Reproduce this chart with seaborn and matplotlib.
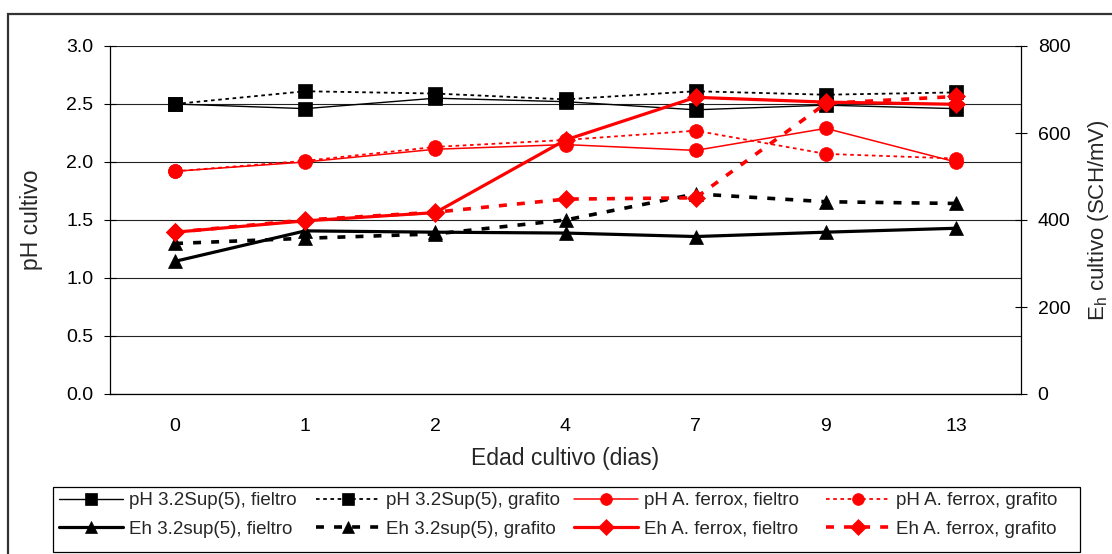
import matplotlib
matplotlib.use("Agg")
import matplotlib.pyplot as plt
import matplotlib.patches as mpatches
import seaborn as sns
import numpy as np

# Culture age (days) shown as evenly spaced categories
dias = ["0", "1", "2", "4", "7", "9", "13"]

# pH of the cultures
ph_sup_fieltro = [2.50, 2.46, 2.55, 2.52, 2.45, 2.49, 2.46]
ph_sup_grafito = [2.50, 2.61, 2.59, 2.54, 2.61, 2.58, 2.60]
ph_ferrox_fieltro = [1.92, 2.00, 2.11, 2.15, 2.10, 2.29, 2.00]
ph_ferrox_grafito = [1.92, 2.01, 2.13, 2.19, 2.27, 2.07, 2.03]

# Redox potential (mV vs SCH)
eh_sup_fieltro = [305, 375, 372, 370, 362, 372, 381]
eh_sup_grafito = [346, 358, 368, 400, 460, 442, 438]
eh_ferrox_fieltro = [372, 398, 417, 584, 682, 671, 666]
eh_ferrox_grafito = [372, 400, 418, 448, 451, 668, 684]

sns.set_style("white")
plt.rcParams["font.family"] = ["Liberation Sans", "DejaVu Sans"]

W, H = 1112, 554
fig = plt.figure(figsize=(W / 100, H / 100), dpi=100)
ax = fig.add_axes([110 / W, 1 - 394 / H, (1021 - 110) / W, (394 - 46) / H])
ax2 = ax.twinx()

x = np.arange(len(dias))

series_ph = [
    ("pH 3.2Sup(5), fieltro", ph_sup_fieltro, "black", "-", 1.0, "s", 10),
    ("pH 3.2Sup(5), grafito", ph_sup_grafito, "black", (0, (2.0, 2.0)), 1.3, "s", 10),
    ("pH A. ferrox, fieltro", ph_ferrox_fieltro, "#ff0000", "-", 1.1, "o", 10),
    ("pH A. ferrox, grafito", ph_ferrox_grafito, "#ff0000", (0, (2.0, 2.0)), 1.3, "o", 10),
]
series_eh = [
    ("Eh 3.2sup(5), fieltro", eh_sup_fieltro, "black", "-", 2.3, "^", 10),
    ("Eh 3.2sup(5), grafito", eh_sup_grafito, "black", (0, (2.2, 2.8)), 2.6, "^", 10),
    ("Eh A. ferrox, fieltro", eh_ferrox_fieltro, "#ff0000", "-", 2.3, "D", 9),
    ("Eh A. ferrox, grafito", eh_ferrox_grafito, "#ff0000", (0, (2.2, 2.8)), 2.6, "D", 9),
]

handles_ph, handles_eh = [], []
for target, series, store in ((ax, series_ph, handles_ph), (ax2, series_eh, handles_eh)):
    for label, vals, color, ls, lw, mk, ms in series:
        sns.lineplot(x=x, y=vals, ax=target, color=color, linestyle=ls, linewidth=lw,
                     marker=mk, markersize=ms, markeredgecolor=color,
                     markerfacecolor=color, markeredgewidth=0.5, legend=False)
        line = target.lines[-1]
        line.set_label(label)
        store.append(line)

# Left axis (pH)
ax.set_xlim(-0.5, len(dias) - 0.5)
ax.set_ylim(0, 3.0)
ax.set_yticks(np.arange(0, 3.01, 0.5))
ax.set_yticklabels([f"{v:.1f}" for v in np.arange(0, 3.01, 0.5)])
ax.set_xticks(x)
ax.set_xticklabels(dias)
ax.set_xticks(np.arange(-0.5, len(dias), 1.0), minor=True)
ax.tick_params(axis="x", which="major", length=0, labelsize=14, pad=17, colors="black")
ax.tick_params(axis="x", which="minor", length=8, direction="inout", width=0.8, color="black")
ax.tick_params(axis="y", length=8, direction="inout", width=0.8, labelsize=14, pad=8, colors="black")
ax.grid(axis="y", color="#222222", linewidth=0.8)
ax.set_axisbelow(True)
ax.set_ylabel("pH cultivo", fontsize=16.5, labelpad=17)
ax.set_xlabel("Edad cultivo (dias)", fontsize=16.5, labelpad=9)
for side in ("top", "right"):
    ax.spines[side].set_visible(False)
for side in ("left", "bottom"):
    ax.spines[side].set_color("black")
    ax.spines[side].set_linewidth(0.9)

# Right axis (Eh)
ax2.set_ylim(0, 800)
ax2.set_yticks([0, 200, 400, 600, 800])
ax2.tick_params(axis="y", length=8, direction="inout", width=0.8, labelsize=14, pad=8, colors="black")
ax2.set_ylabel(r"E$_\mathregular{h}$ cultivo (SCH/mV)", fontsize=16, labelpad=11)
for side in ("top", "left", "bottom"):
    ax2.spines[side].set_visible(False)
ax2.spines["right"].set_color("black")
ax2.spines["right"].set_linewidth(0.9)
ax2.grid(False)

# Legend: one column per series pair (pH on top, Eh below) inside a shared frame
col_left_px = [59, 316, 574, 826]
for left_px, hp, he in zip(col_left_px, handles_ph, handles_eh):
    fig.legend(handles=[hp, he], labels=[hp.get_label(), he.get_label()],
               loc="upper left", bbox_to_anchor=(left_px / W, 1 - 492 / H),
               fontsize=13.5, handlelength=3.4, handletextpad=0.35,
               labelspacing=0.6, borderpad=0.0, borderaxespad=0.0,
               markerscale=0.85, frameon=False)
fig.patches.append(mpatches.Rectangle((53 / W, 1 - 552 / H), (1080 - 53) / W, (552 - 487) / H,
                                      transform=fig.transFigure, fill=False,
                                      edgecolor="black", linewidth=0.9))

# Outer chart border
fig.patches.append(mpatches.Rectangle((0.0072, -0.05), 1.2, 0.9747 + 0.05,
                                      transform=fig.transFigure, fill=False,
                                      edgecolor="#333333", linewidth=1.6))

fig.savefig("out.png", dpi=100)
